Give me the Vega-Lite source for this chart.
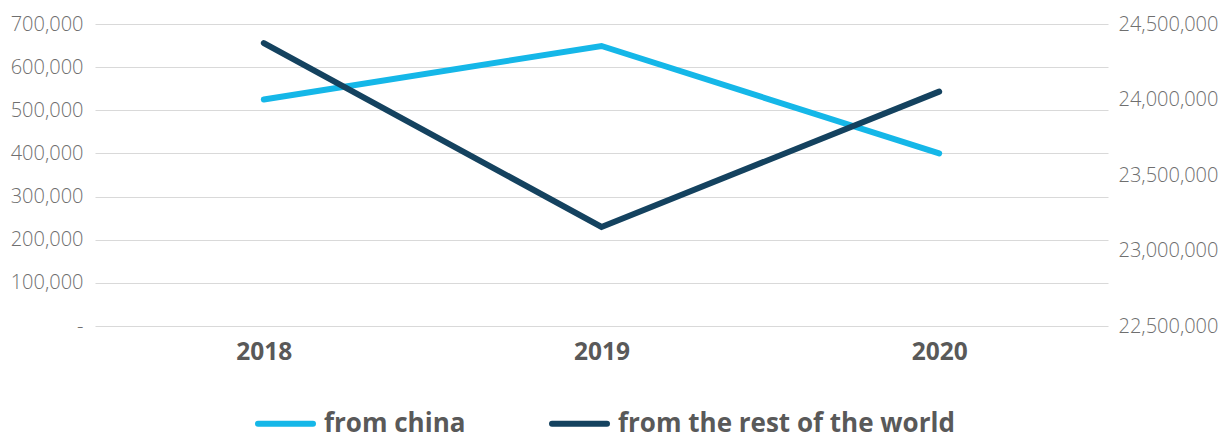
{
  "$schema": "https://vega.github.io/schema/vega-lite/v6.json",
  "autosize": {"type": "none"},
  "padding": {"left": 95, "top": 24, "right": 114, "bottom": 109},
  "width": 1013,
  "height": 302,
  "background": "white",
  "config": {
    "font": "Open Sans",
    "view": {"stroke": null},
    "axis": {"labelFont": "Open Sans"}
  },
  "data": {
    "values": [
      {"year": "2018", "series": "from china", "value": 525000},
      {"year": "2019", "series": "from china", "value": 649000},
      {"year": "2020", "series": "from china", "value": 400000},
      {"year": "2018", "series": "from the rest of the world", "value": 24374000},
      {"year": "2019", "series": "from the rest of the world", "value": 23156000},
      {"year": "2020", "series": "from the rest of the world", "value": 24052000}
    ]
  },
  "encoding": {
    "x": {
      "field": "year",
      "type": "ordinal",
      "scale": {"type": "point", "padding": 0.5},
      "axis": {
        "title": null,
        "domain": false,
        "ticks": false,
        "labelAngle": 0,
        "labelFontSize": 24.5,
        "labelFontWeight": "bold",
        "labelColor": "#595959",
        "labelPadding": 14
      }
    },
    "color": {
      "field": "series",
      "type": "nominal",
      "scale": {
        "domain": ["from china", "from the rest of the world"],
        "range": ["#15b7e8", "#14425f"]
      },
      "legend": {
        "title": null,
        "orient": "none",
        "direction": "horizontal",
        "legendX": 160,
        "legendY": 369,
        "symbolType": "stroke",
        "symbolSize": 3025,
        "symbolStrokeWidth": 6,
        "labelFontSize": 26,
        "labelFontWeight": "bold",
        "labelColor": "#595959",
        "labelOffset": 8,
        "labelLimit": 0,
        "columnPadding": 74,
        "encode": {"symbols": {"update": {"strokeCap": {"value": "round"}}}}
      }
    }
  },
  "layer": [
    {
      "transform": [{"filter": "datum.series == 'from china'"}],
      "mark": {"type": "line", "strokeWidth": 6, "strokeCap": "round"},
      "encoding": {
        "y": {
          "field": "value",
          "type": "quantitative",
          "scale": {"domain": [0, 700000], "nice": false, "zero": false},
          "axis": {
            "title": null,
            "orient": "left",
            "values": [0, 100000, 200000, 300000, 400000, 500000, 600000, 700000],
            "labelExpr": "datum.value == 0 ? '-' : format(datum.value, ',')",
            "domain": false,
            "ticks": false,
            "grid": true,
            "gridColor": "#d9d9d9",
            "gridWidth": 1,
            "labelFontSize": 20,
            "labelFontWeight": 300,
            "labelColor": "#6f6f6f",
            "labelPadding": 12
          }
        }
      }
    },
    {
      "transform": [{"filter": "datum.series == 'from the rest of the world'"}],
      "mark": {"type": "line", "strokeWidth": 6, "strokeCap": "round"},
      "encoding": {
        "y": {
          "field": "value",
          "type": "quantitative",
          "scale": {"domain": [22500000, 24500000], "nice": false, "zero": false},
          "axis": {
            "title": null,
            "orient": "right",
            "values": [22500000, 23000000, 23500000, 24000000, 24500000],
            "labelExpr": "format(datum.value, ',')",
            "domain": false,
            "ticks": false,
            "grid": false,
            "labelFontSize": 20,
            "labelFontWeight": 300,
            "labelColor": "#6f6f6f",
            "labelPadding": 10
          }
        }
      }
    }
  ],
  "resolve": {"scale": {"y": "independent"}}
}
